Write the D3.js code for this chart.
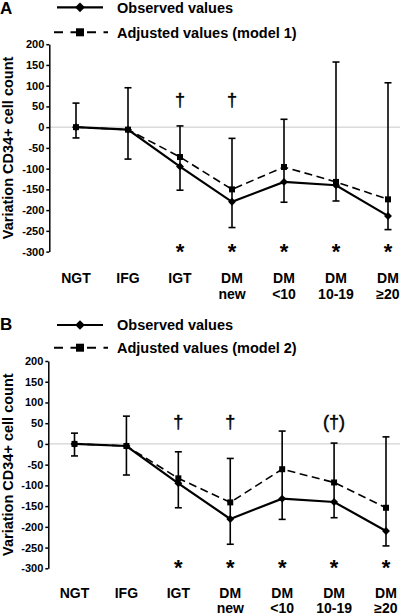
<!DOCTYPE html>
<html><head><meta charset="utf-8">
<script src="https://cdn.jsdelivr.net/npm/d3@7"></script>
<style>body{margin:0;background:#fff}svg{display:block}text{font-family:Arial,"Liberation Sans",sans-serif;fill:#000}</style>
</head><body><svg id="c" width="400" height="615"></svg>
<script>
const categories = ["NGT","IFG","IGT","DM new","DM <10","DM 10-19","DM ≥20"];
const catLine1 = ["NGT","IFG","IGT","DM","DM","DM","DM"];
const catLine2 = ["","","","new","<10","10-19","≥20"];
const tickValues = [200,150,100,50,0,-50,-100,-150,-200,-250,-300];
const tickLabels = ["200","150","100","50","0","-50","-100","-150","-200","-250","-300"];

const observedA = [0,-6,-95,-180,-132,-140,-214];
const adjustedA = [0,-6,-72,-150,-96,-132,-174];
const errHighA  = [58,95,3,-27,19,157,107];
const errLowA   = [-26,-77,-152,-242,-181,-178,-247];
const daggerA   = ["","","†","†","","",""];
const starA     = ["","","*","*","*","*","*"];

const observedB = [0,-5,-95,-181,-132,-140,-210];
const adjustedB = [0,-5,-83,-141,-61,-93,-154];
const errHighB  = [26,67,-19,-35,31,2,17];
const errLowB   = [-29,-75,-154,-242,-182,-178,-246];
const daggerB   = ["","","†","†","","(†)",""];
const starB     = ["","","*","*","*","*","*"];

const svg = d3.select("#c");

function panel(cfg){
  const g = svg.append("g");
  const y = d3.scaleLinear().domain([-300,200]).range([cfg.y0, cfg.y1]);
  const x = d3.scalePoint().domain(categories).range([cfg.x0, cfg.x1]);
  const ax = cfg.axisX;
  g.append("text").attr("x",0).attr("y",cfg.letterY).attr("font-size",17).attr("font-weight","bold").text(cfg.letter);
  const r1 = cfg.legY1, r2 = cfg.legY2;
  g.append("line").attr("x1",57).attr("x2",103).attr("y1",r1).attr("y2",r1).attr("stroke","#000").attr("stroke-width",2.2);
  g.append("path").attr("d",d3.symbol(d3.symbolDiamond2 || d3.symbolDiamond, 60)()).attr("transform",`translate(80,${r1})`).attr("fill","#000");
  g.append("line").attr("x1",54).attr("x2",108).attr("y1",r2).attr("y2",r2).attr("stroke","#000").attr("stroke-width",2).attr("stroke-dasharray","9,7.5");
  g.append("rect").attr("x",76).attr("y",r2-4).attr("width",8).attr("height",8).attr("fill","#000");
  g.append("text").attr("x",117).attr("y",r1+5.2).attr("font-size",14.5).attr("font-weight","bold").text("Observed values");
  g.append("text").attr("x",117).attr("y",r2+5.2).attr("font-size",14.5).attr("font-weight","bold").text(cfg.adjLabel);
  g.append("line").attr("x1",ax).attr("x2",400).attr("y1",y(0)).attr("y2",y(0)).attr("stroke","#c8c8c8").attr("stroke-width",1);
  const axis = d3.axisLeft(y).tickValues(tickValues).tickSize(3).tickSizeOuter(0).tickPadding(2)
    .tickFormat((d,i)=>tickLabels[i]);
  const ag = g.append("g").attr("transform",`translate(${ax},0)`).call(axis);
  ag.select(".domain").attr("stroke-width",1.5);
  ag.selectAll(".tick line").attr("stroke-width",1.5);
  ag.selectAll(".tick text").attr("font-size",11).attr("font-weight","bold").attr("font-family","Arial,'Liberation Sans',sans-serif").attr("fill","#000");
  g.append("text").attr("transform",`translate(${cfg.titleX},${(cfg.y0+cfg.y1)/2}) rotate(-90)`)
    .attr("text-anchor","middle").attr("font-size",14.5).attr("font-weight","bold").text("Variation CD34+ cell count");
  const eb = g.append("g").selectAll("g").data(categories).join("g");
  eb.append("line").attr("x1",d=>x(d)).attr("x2",d=>x(d)).attr("y1",(d,i)=>y(cfg.hi[i])).attr("y2",(d,i)=>y(cfg.lo[i])).attr("stroke","#000").attr("stroke-width",1.6);
  eb.append("line").attr("x1",d=>x(d)-3.5).attr("x2",d=>x(d)+3.5).attr("y1",(d,i)=>y(cfg.hi[i])).attr("y2",(d,i)=>y(cfg.hi[i])).attr("stroke","#000").attr("stroke-width",1.6);
  eb.append("line").attr("x1",d=>x(d)-3.5).attr("x2",d=>x(d)+3.5).attr("y1",(d,i)=>y(cfg.lo[i])).attr("y2",(d,i)=>y(cfg.lo[i])).attr("stroke","#000").attr("stroke-width",1.6);
  const lineA = d3.line().x((d,i)=>x(categories[i])).y(d=>y(d));
  g.append("path").attr("d",lineA(cfg.adj)).attr("fill","none").attr("stroke","#000").attr("stroke-width",1.6).attr("stroke-dasharray","8,4.5");
  g.append("path").attr("d",lineA(cfg.obs)).attr("fill","none").attr("stroke","#000").attr("stroke-width",2.2);
  g.append("g").selectAll("path").data(cfg.obs).join("path")
    .attr("d",d3.symbol(d3.symbolDiamond2 || d3.symbolDiamond, 40)())
    .attr("transform",(d,i)=>`translate(${x(categories[i])},${y(d)})`).attr("fill","#000");
  g.append("g").selectAll("rect").data(cfg.adj).join("rect")
    .attr("x",(d,i)=>x(categories[i])-3).attr("y",d=>y(d)-3).attr("width",6).attr("height",6).attr("fill","#000");
  g.append("g").selectAll("text").data(cfg.dag).join("text")
    .attr("x",(d,i)=>x(categories[i])).attr("y",y(cfg.dagLevel))
    .attr("text-anchor","middle").attr("font-size",18).attr("fill","#000")
    .attr("stroke","#000").attr("stroke-width",0.45)
    .attr("font-family","'Liberation Serif','DejaVu Serif',serif").text(d=>d);
  g.append("g").selectAll("text").data(cfg.star).join("text")
    .attr("x",(d,i)=>x(categories[i])).attr("y",y(-288)+12)
    .attr("text-anchor","middle").attr("font-size",22).attr("font-weight","bold").attr("fill","#000").text(d=>d);
  const cl = g.append("g").selectAll("text").data(categories).join("text")
    .attr("x",d=>x(d)).attr("text-anchor","middle").attr("font-size",14).attr("font-weight","bold");
  cl.append("tspan").attr("x",d=>x(d)).attr("y",cfg.catY1).text((d,i)=>catLine1[i]);
  cl.append("tspan").attr("x",d=>x(d)).attr("y",cfg.catY2).text((d,i)=>catLine2[i]);
}

panel({letter:"A", letterY:13.5, legY1:7.3, legY2:32.3, adjLabel:"Adjusted values (model 1)",
  y0:251.6, y1:44.2, x0:76, x1:388, axisX:49.3, titleX:13,
  obs:observedA, adj:adjustedA, hi:errHighA, lo:errLowA, dag:daggerA, star:starA, dagLevel:52,
  catY1:282.5, catY2:299});
panel({letter:"B", letterY:330, legY1:325, legY2:347.7, adjLabel:"Adjusted values (model 2)",
  y0:568.3, y1:361, x0:74.5, x1:386, axisX:48.3, titleX:13,
  obs:observedB, adj:adjustedB, hi:errHighB, lo:errLowB, dag:daggerB, star:starB, dagLevel:38,
  catY1:597.5, catY2:612.5});
</script></body></html>
